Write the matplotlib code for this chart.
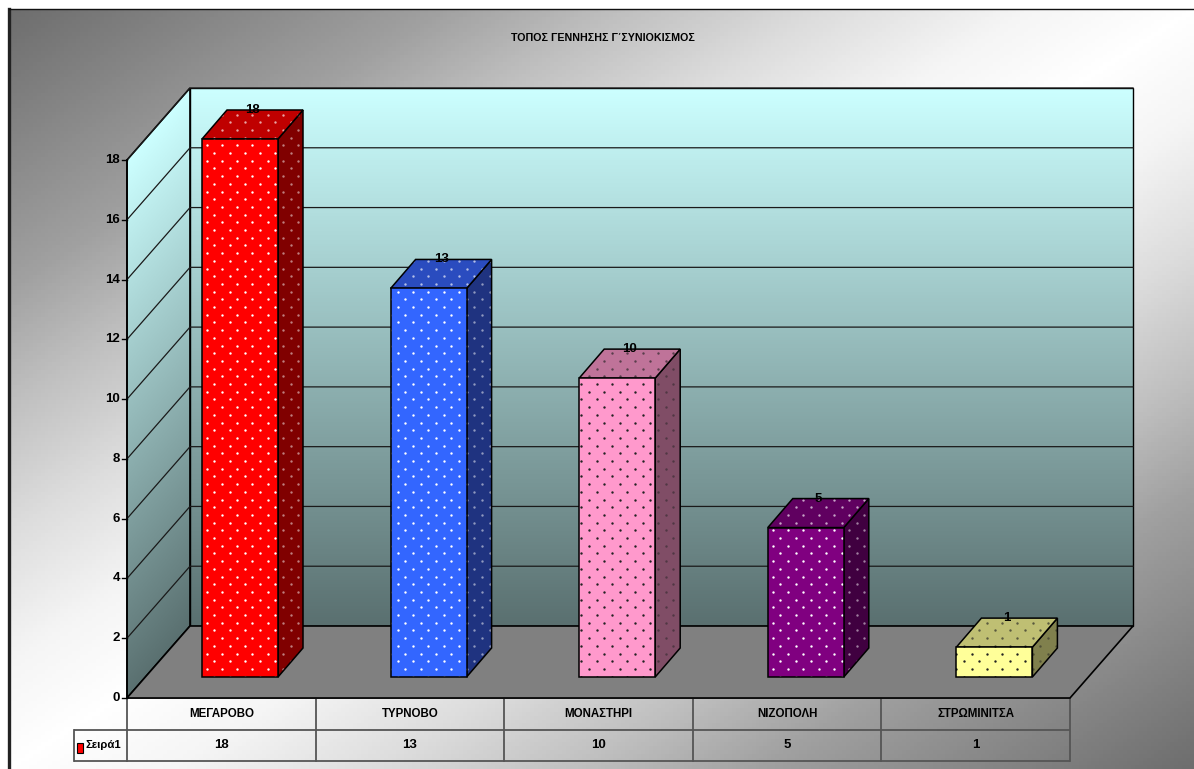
import numpy as np
import matplotlib
matplotlib.use("Agg")
import matplotlib.pyplot as plt
from matplotlib.colors import LinearSegmentedColormap
from matplotlib.patches import Polygon
from matplotlib.transforms import IdentityTransform

# data
categories = ["ΜΕΓΑΡΟΒΟ", "ΤΥΡΝΟΒΟ", "ΜΟΝΑΣΤΗΡΙ", "ΝΙΖΟΠΟΛΗ", "ΣΤΡΩΜΙΝΙΤΣΑ"]
values = [18, 13, 10, 5, 1]
yticks = [0, 2, 4, 6, 8, 10, 12, 14, 16, 18]
series_name = "Σειρά1"
title = "ΤΟΠΟΣ ΓΕΝΝΗΣΗΣ Γ΄ΣΥΝΙΟΚΙΣΜΟΣ"

front_cols = ["#FF0000", "#3366FF", "#FF99CC", "#800080", "#FFFF99"]
top_cols = ["#BF0000", "#2A4CBF", "#BF7399", "#600060", "#BFBF73"]
side_cols = ["#800000", "#1F3380", "#804D66", "#400040", "#80804D"]
dot_cols = ["white", "white", "#222222", "white", "#222222"]

plt.rcParams["font.family"] = ["Liberation Sans", "DejaVu Sans"]
plt.rcParams["font.weight"] = "bold"

W, H = 1194, 769
fig = plt.figure(figsize=(W / 100, H / 100), dpi=100, facecolor="white")

# background with the diagonal gray-white-gray gradient
bg = fig.add_axes([0, 0, 1, 1])
bg.axis("off")
xx, yy = np.meshgrid(np.linspace(0, 1, 300), np.linspace(0, 1, 200))
t = np.abs((xx + yy) / 2 - 0.5) * 2
bg_cmap = LinearSegmentedColormap.from_list(
    "bg", [(0, "#FFFFFF"), (0.14, "#F5F5F5"), (0.31, "#DDDDDD"), (0.48, "#C0C0C0"),
           (0.64, "#A0A0A0"), (1, "#6E6E6E")])
bg.imshow(t, cmap=bg_cmap, extent=(9, W, H, 9), aspect="auto", zorder=1, vmin=0, vmax=1)
bg.set_xlim(0, W)
bg.set_ylim(H, 0)
bg.plot([9, 9], [H, 9], color="#222222", lw=2.4, zorder=2)
bg.plot([9, W], [9, 9], color="#111111", lw=1.0, zorder=2)

# main axes sit on the front plane of the 3D box
ax = fig.add_axes([127 / W, 1 - 698 / H, 943 / W, 538 / H])
ax.axis("off")
ax.patch.set_alpha(0)
px = 5 / 943
py = 18 / 538
depth_x = 63 * px
depth_y = 72 * py

wall_cmap = LinearSegmentedColormap.from_list("wall", ["#5A7070", "#CCFFFF"])

# left wall and back wall, gradient follows the shear on the left one
gx, gy = np.meshgrid(np.linspace(0, depth_x, 80), np.linspace(0, 18 + depth_y, 500))
shear = np.clip((gy - gx / depth_x * depth_y) / 18, 0, 1)
left_wall = Polygon([(0, 0), (depth_x, depth_y), (depth_x, 18 + depth_y), (0, 18)],
                    closed=True, fc="none", ec="black", lw=1.2, clip_on=False, zorder=2)
ax.add_patch(left_wall)
im = ax.imshow(shear, cmap=wall_cmap, origin="lower", aspect="auto", zorder=1,
               extent=(0, depth_x, 0, 18 + depth_y), vmin=0, vmax=1)
im.set_clip_box(fig.bbox)
im.set_clip_path(left_wall)

back_wall = Polygon([(depth_x, depth_y), (5 + depth_x, depth_y),
                     (5 + depth_x, 18 + depth_y), (depth_x, 18 + depth_y)],
                    closed=True, fc="none", ec="black", lw=1.0, clip_on=False, zorder=2)
ax.add_patch(back_wall)
grad = np.linspace(0, 1, 500).reshape(-1, 1)
im2 = ax.imshow(grad, cmap=wall_cmap, origin="lower", aspect="auto", zorder=1,
                extent=(depth_x, 5 + depth_x, depth_y, 18 + depth_y), vmin=0, vmax=1)
im2.set_clip_box(fig.bbox)
im2.set_clip_path(back_wall)
ax.set_xlim(0, 5)
ax.set_ylim(0, 18)

floor = Polygon([(0, 0), (depth_x, depth_y), (5 + depth_x, depth_y), (5, 0)],
                closed=True, fc="#808080", ec="black", lw=1.2, clip_on=False, zorder=3)
ax.add_patch(floor)

# gridlines and ticks
for v in yticks[1:]:
    ax.plot([0, depth_x, 5 + depth_x], [v, v + depth_y, v + depth_y], color="#1a1a1a",
            lw=0.9, clip_on=False, zorder=2.5)
for v in yticks:
    ax.plot([-5 * px, 0], [v, v], color="black", lw=1, clip_on=False, zorder=4)
    ax.text(-7 * px, v, str(v), ha="right", va="center", fontsize=9.5, zorder=5)
ax.plot([0, 0], [0, 18], color="black", lw=1.2, clip_on=False, zorder=4)

# pixel grid for the dotted bar pattern
dot_x, dot_y = [], []
for row, y in enumerate(np.arange(0, H, 7.7)):
    xs = np.arange(0, W, 15.3) + (row % 2) * 7.65
    dot_x.extend(xs)
    dot_y.extend([y] * len(xs))


def dotted(poly, color, alpha, z):
    ax.add_patch(poly)
    poly.set_zorder(z)
    d = ax.scatter(dot_x, dot_y, s=3.0, c=color, alpha=alpha, linewidths=0,
                   transform=IdentityTransform(), zorder=z + 0.1)
    d.set_clip_box(fig.bbox)
    d.set_clip_path(poly)
    outline = Polygon(poly.get_xy(), closed=True, fc="none", ec="black", lw=1.1,
                      clip_on=False, zorder=z + 0.2)
    ax.add_patch(outline)


# bars
bar_w = 76 * px
off_x = 75 * px
lift = 21 * py
bar_dx = 25 * px
bar_dy = 29 * py
for i, v in enumerate(values):
    x0 = i + off_x
    x1 = x0 + bar_w
    y0 = lift
    y1 = lift + v
    z = 6 + i
    front = Polygon([(x0, y0), (x1, y0), (x1, y1), (x0, y1)], closed=True,
                    fc=front_cols[i], ec="none", clip_on=False)
    top = Polygon([(x0, y1), (x1, y1), (x1 + bar_dx, y1 + bar_dy), (x0 + bar_dx, y1 + bar_dy)],
                  closed=True, fc=top_cols[i], ec="none", clip_on=False)
    side = Polygon([(x1, y0), (x1 + bar_dx, y0 + bar_dy), (x1 + bar_dx, y1 + bar_dy), (x1, y1)],
                   closed=True, fc=side_cols[i], ec="none", clip_on=False)
    dotted(side, dot_cols[i], 0.5, z)
    dotted(top, dot_cols[i], 0.65, z + 0.3)
    dotted(front, dot_cols[i], 1.0, z + 0.6)
    ax.text((x0 + x1) / 2 + bar_dx / 2, y1 + bar_dy, str(v), ha="center", va="center",
            fontsize=9.5, zorder=z + 0.9, clip_on=False)

# data table under the axis
row1 = -32 * py
row2 = -63 * py
table_col = "#555555"
for y in [0, row1, row2]:
    x_start = -53 * px if y != 0 else 0
    ax.plot([x_start, 5], [y, y], color=table_col, lw=1.3, clip_on=False, zorder=2.8,
            solid_capstyle="butt")
for i in range(6):
    ax.plot([i, i], [0, row2], color=table_col, lw=1.3, clip_on=False, zorder=2.8)
ax.plot([-53 * px, -53 * px], [row1, row2], color=table_col, lw=1.3, clip_on=False, zorder=4)
for i, cat in enumerate(categories):
    ax.text(i + 0.5, row1 / 2, cat, ha="center", va="center", fontsize=8.3, clip_on=False)
    ax.text(i + 0.5, (row1 + row2) / 2, str(values[i]), ha="center", va="center",
            fontsize=9.5, clip_on=False)
ax.add_patch(Polygon([(-50 * px, row1 - 13 * py), (-44 * px, row1 - 13 * py),
                      (-44 * px, row1 - 23 * py), (-50 * px, row1 - 23 * py)],
                     closed=True, fc=front_cols[0], ec="black", lw=0.8, clip_on=False, zorder=5))
ax.text(-41 * px, (row1 + row2) / 2, series_name, ha="left", va="center", fontsize=8.2,
        clip_on=False)

fig.text(603 / W, 1 - 38 / H, title, ha="center", va="center", fontsize=7.7)

fig.savefig("out.png", dpi=100)
